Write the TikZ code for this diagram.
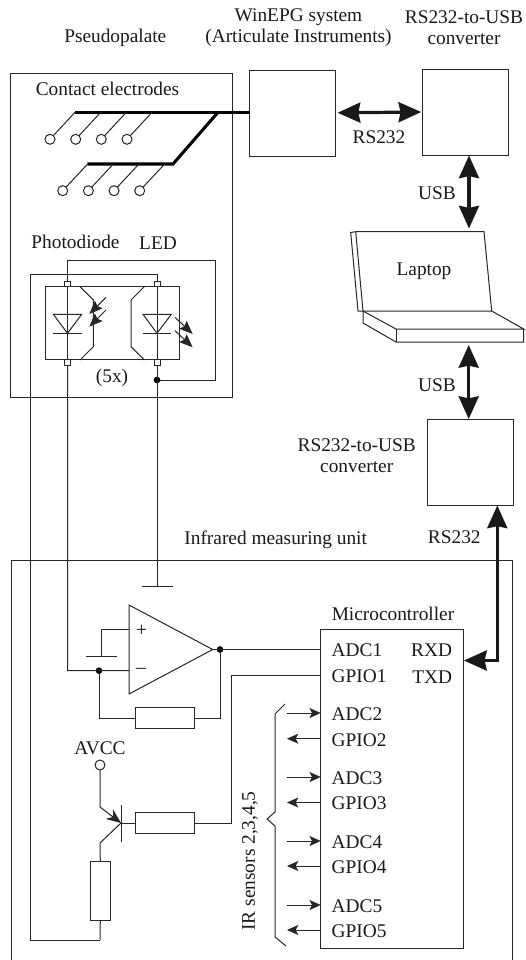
\documentclass[tikz,border=0pt]{standalone}
\usepackage{fontspec}
\setmainfont{Liberation Serif}
\usetikzlibrary{arrows.meta}
\tikzset{
  ln/.style={draw=black!85,line width=0.75pt},
  box/.style={ln,rectangle,inner sep=0pt,outer sep=0pt,fill=none},
  res/.style={box,fill=white},
  lbl/.style={inner sep=0pt,outer sep=0pt,text=black!90,font=\fontsize{14.5pt}{15.75pt}\selectfont,align=center},
  lft/.style={lbl,anchor=west},
  rgt/.style={lbl,anchor=east},
  wire/.style={ln,line join=miter},
  bus/.style={draw=black,line width=2.3pt,line join=miter},
  bighead/.tip={Stealth[length=17pt,width=15pt,inset=1.5pt]},
  bigarrow/.style={draw=black!90,line width=2.4pt,line join=miter,bighead-bighead},
  smallarrow/.style={ln,-{Stealth[length=8.5pt,width=7.5pt,inset=2pt]}},
  optarrow/.style={ln,-{Stealth[length=10pt,width=8pt,inset=1.5pt]}},
  dot/.style={circle,fill=black,inner sep=0pt,minimum size=5pt,outer sep=0pt},
  pad/.style={circle,ln,fill=white,inner sep=0pt,minimum size=7.5pt,outer sep=0pt},
  pin/.style={box,fill=white,minimum width=4.5pt,minimum height=4pt},
}
\begin{document}
\begin{tikzpicture}[x=0.75pt,y=-0.75pt]
\useasboundingbox (0,0) rectangle (525,960);
% main boxes
\node[box,minimum width=222*0.75pt,minimum height=324*0.75pt] (palate) at (121,235) {};
\node[box,minimum width=85.7*0.75pt,minimum height=85.7*0.75pt] (epg) at (292.8,113.8) {};
\node[box,minimum width=85.6*0.75pt,minimum height=86*0.75pt] (conva) at (465.5,112) {};
\node[box,minimum width=86*0.75pt,minimum height=85.7*0.75pt] (convb) at (470.3,462.2) {};
\node[box,minimum width=142.5*0.75pt,minimum height=319*0.75pt] (mcu) at (392,788.5) {};
% measuring unit frame (open at the bottom)
\coordinate (ua) at (11,960); \coordinate (ub) at (11,560); \coordinate (uc) at (512.7,560); \coordinate (ud) at (512.7,960);
\draw[wire] (ua) -- (ub) -- (uc) -- (ud);
% top labels
\node[lbl] (t1) at (115.3,37.5) {Pseudopalate};
\node[lbl] (t2) at (298.5,27.5) {WinEPG system\\(Articulate Instruments)};
\node[lbl] (t3) at (464,27.5) {RS232-to-USB\\converter};
\node[lbl] (t4) at (107.5,89) {Contact electrodes};
\node[lbl] (t5) at (75.5,241.5) {Photodiode};
\node[lbl] (t6) at (158,243) {LED};
\node[lbl] (t7) at (112,378) {(5x)};
\node[lbl] (t8) at (379,137) {RS232};
\node[lbl] (t9) at (437,193) {USB};
\node[lbl] (t10) at (424,271) {Laptop};
\node[lbl] (t11) at (437,385) {USB};
\node[lbl] (t12) at (356.7,456) {RS232-to-USB\\converter};
\node[lbl] (t13) at (454.3,537) {RS232};
\node[lbl] (t14) at (275.7,540) {Infrared measuring unit};
\node[lbl] (t15) at (393,614) {Microcontroller};
\node[lbl,rotate=90] (t16) at (250,861) {IR sensors 2,3,4,5};
\node[lbl] (avcc) at (100,748) {AVCC};
% big arrows
\draw[bigarrow] (epg.east) ++(2,-1) -- ([xshift=-1.5*0.75pt]conva.west);
\draw[bigarrow] (469,155.5) -- (469,228.5);
\draw[bigarrow] (468.7,345) -- (468.7,419);
\coordinate (txcorner) at (497.3,660.5);
\draw[bigarrow] (497.3,505.5) -- (txcorner) -- (464,660.5);
% electrodes
\coordinate (ba) at (75,112.3); \coordinate (bb) at (218,112.3); \coordinate (bc) at (173,164); \coordinate (bd) at (87.3,164);
\draw[bus] (ba) -- (epg.west|-ba);
\draw[bus] (bb) -- (bc) -- (bd);
\foreach \i/\x in {1/50,2/75.7,3/101.3,4/127}{
  \node[pad] (ea\i) at (\x,139.3) {};
  \draw[wire] (ea\i) -- (\x+25,112.3);
}
\foreach \i/\x in {1/62.7,2/88.4,3/114,4/139.7}{
  \node[pad] (eb\i) at (\x,190.7) {};
  \draw[wire] (eb\i) -- (\x+25,164);
}
% optocoupler
\node[box,minimum width=133.6*0.75pt,minimum height=73.3*0.75pt] (opto) at (112.5,323.3) {};
\node[pin] (pa) at (67.5,283.7) {};
\node[pin] (pb) at (157,283.7) {};
\node[pin] (pc) at (67.5,362.5) {};
\node[pin] (pd) at (157,362.5) {};
\draw[wire] (pa.north) -- (67.5,260.7) -- (215,260.7) -- (215,380) -- (157,380);
\draw[wire] (pb.north) -- (157,274) -- (30.7,274) -- (30.7,940) -- (100,940);
\draw[wire] (pa.south) -- (pc.north);
\draw[wire] (pb.south) -- (pd.north);
\node[dot] (ledj) at (157,380) {};
% diodes
\draw[wire] (53.3,314.3) -- (81.7,314.3) -- (67.5,333.3) -- cycle;
\draw[wire] (53.3,333.3) -- (81.7,333.3);
\draw[wire] (143,314.3) -- (171.3,314.3) -- (157,333.3) -- cycle;
\draw[wire] (143,333.3) -- (171.3,333.3);
\draw[wire] (80,286.7) -- (93.3,300) -- (93.3,346.7) -- (80,360);
\draw[wire] (144.3,286.7) -- (131,300) -- (131,346.7) -- (144.3,360);
\draw[optarrow] (106,297.3) -- (89.3,314);
\draw[optarrow] (106,310) -- (89.3,326.7);
\draw[optarrow] (175,317.3) -- (192.7,334);
\draw[optarrow] (175,330.7) -- (192.7,347.3);
% ground
\coordinate (gnda) at (141.7,586.7); \coordinate (gndb) at (172.7,586.7);
\draw[wire] (pd.south) -- (157,586.7);
\draw[wire] (gnda) -- (gndb);
% op-amp
\coordinate (oa) at (129,605); \coordinate (ob) at (129,694); \coordinate (oc) at (212.7,649.5);
\draw[wire] (oa) -- (ob) -- (oc) -- cycle;
\node[lbl,font=\fontsize{15pt}{15pt}\selectfont] (plus) at (141.5,630.5) {+};
\node[lbl,font=\fontsize{15pt}{15pt}\selectfont] (minus) at (141,671) {–};
\node[dot] (oj) at (220,649.5) {};
\node[dot] (mj) at (99,670.7) {};
\draw[wire] (oc) -- (mcu.west|-oc);
\draw[wire] (pc.south) -- (67.7,670.7) -- (129,670.7);
\draw[wire] (129,629) -- (101,629) -- (101,656);
\draw[wire] (86,656) -- (117,656);
\node[res,minimum width=59*0.75pt,minimum height=20.5*0.75pt] (rf) at (164.5,718) {};
\draw[wire] (mj) |- (rf.west);
\draw[wire] (oj) |- (rf.east);
% transistor
\node[pad,minimum size=7.5pt] (vcc) at (100,765) {};
\node[res,minimum width=59*0.75pt,minimum height=20.5*0.75pt] (rb) at (164.5,823) {};
\node[res,minimum width=20.5*0.75pt,minimum height=59*0.75pt] (rc) at (100.3,890.5) {};
\coordinate (tb) at (121,823);
\draw[wire] (121,805) -- (121,842);
\draw[wire] (tb) -- (rb.west);
\draw[wire,-{Stealth[length=11pt,width=9pt]}] (vcc.south) -- (100,807) -- (tb);
\draw[wire] (tb) -- (100,843) -- (rc.north);
\draw[wire] (rc.south) -- (100,940);
\draw[wire] (rb.east) -- (231,823) -- (231,675) -- (mcu.west|-0,675);
% MCU labels
\node[lft] (l1) at (331.7,650) {ADC1};
\node[lft] (l2) at (331.7,676) {GPIO1};
\node[rgt] (l3) at (452,650) {RXD};
\node[rgt] (l4) at (452,677) {TXD};
\foreach \n/\ya/\yb in {2/713/738.7,3/777/802.5,4/841/866,5/905/930}{
  \node[lft] (adc\n) at (331.7,\ya+1) {ADC\n};
  \node[lft] (gpio\n) at (331.7,\yb+1) {GPIO\n};
  \coordinate (ia\n) at (286.7,\ya);
  \coordinate (ib\n) at (287,\yb);
  \draw[smallarrow] (ia\n) -- (mcu.west|-ia\n);
  \draw[smallarrow] (mcu.west|-ib\n) -- (ib\n);
}
% brace
\draw[wire] (285,704) -- (275,714) -- (275,812) -- (267,819) -- (275,826) -- (275,937) -- (286,946);
% laptop
\draw[wire] (355.7,231.7) -- (484,231.7) -- (491.7,311) -- (358,311) -- (350.7,232.5) -- (355.7,231.7) -- (363,311);
\draw[wire] (363,311) -- (396,329) -- (523.7,329) -- (491.7,311);
\draw[wire] (363,311) -- (363,323) -- (396,342) -- (523.7,342) -- (523.7,329);
\draw[wire] (396,329) -- (396,342);
\end{tikzpicture}
\end{document}
